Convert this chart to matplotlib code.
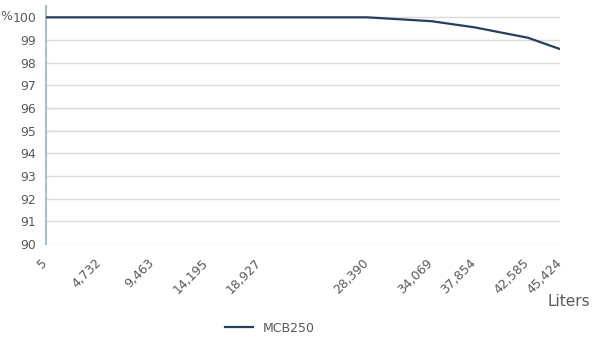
import matplotlib.pyplot as plt
from matplotlib.transforms import ScaledTranslation

# Data
liters = [5, 4732, 9463, 14195, 18927, 28390, 34069, 37854, 42585, 45424]
tick_labels = ["5", "4,732", "9,463", "14,195", "18,927", "28,390",
               "34,069", "37,854", "42,585", "45,424"]
mcb250 = [100, 100, 100, 100, 100, 100, 99.83, 99.56, 99.1, 98.6]
y_ticks = list(range(90, 101))

fig = plt.figure(figsize=(5.92, 3.42), dpi=100)
ax = fig.add_axes([46 / 592, 1 - 244 / 342, (560 - 46) / 592, (244 - 6) / 342])

ax.plot(liters, mcb250, color="#243f5c", linewidth=1.6, label="MCB250", zorder=3)

ax.set_xlim(5, 45424)
ax.set_ylim(90, 100.5)
ax.set_yticks(y_ticks)
ax.set_xticks(liters)
ax.set_xticklabels(tick_labels, rotation=45, ha="right", va="top",
                   rotation_mode="anchor")
ax.tick_params(axis="both", length=0, labelsize=9, labelcolor="#595959")
ax.tick_params(axis="x", pad=8)
ax.tick_params(axis="y", pad=7)
# nudge the slanted labels left so their ends sit under the ticks
shift = ScaledTranslation(-5 / 100, -1 / 100, fig.dpi_scale_trans)
for lab in ax.get_xticklabels():
    lab.set_transform(lab.get_transform() + shift)

ax.grid(axis="y", color="#d9d9d9", linewidth=1)
ax.set_axisbelow(True)
for s in ["top", "right", "bottom"]:
    ax.spines[s].set_visible(False)
ax.spines["left"].set_color("#a9bfcf")
ax.spines["left"].set_linewidth(1.5)

fig.text(0 / 592, 1 - 17 / 342, "%", fontsize=9, color="#595959", va="center")
fig.text(590 / 592, 1 - 302 / 342, "Liters", fontsize=11, color="#595959",
         ha="right", va="center")

fig.legend(loc="center", bbox_to_anchor=(270 / 592, 1 - 328 / 342), frameon=False,
           fontsize=9, labelcolor="#595959", handlelength=2.2)

fig.savefig("out.png", dpi=100)
